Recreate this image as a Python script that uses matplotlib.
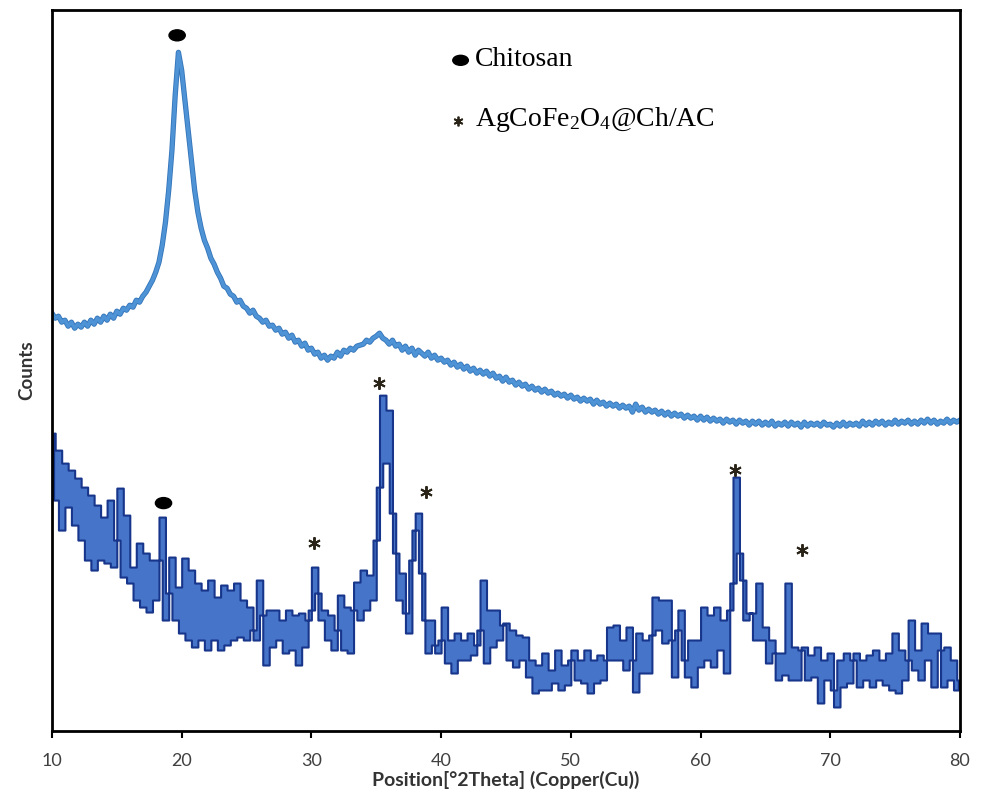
import numpy as np
import matplotlib
matplotlib.use("Agg")
import matplotlib.pyplot as plt
import matplotlib.patheffects as pe
from matplotlib.patches import Ellipse

# 2theta grid, 0.25 deg step from 10 to 80
two_theta = np.arange(10, 80.001, 0.25)

# Chitosan (upper trace), counts a.u.
chitosan = [
    418, 413, 415, 409, 411, 405, 409, 403, 407, 404, 409, 405,
    411, 407, 413, 409, 415, 411, 417, 413, 420, 417, 423, 421,
    426, 424, 431, 429, 435, 439, 445, 451, 459, 469, 486, 509,
    541, 581, 636, 679, 661, 631, 601, 571, 541, 519, 503, 491,
    483, 473, 467, 459, 453, 445, 443, 437, 435, 429, 431, 425,
    423, 418, 421, 415, 413, 409, 411, 405, 406, 401, 403, 397,
    399, 393, 396, 389, 391, 385, 388, 381, 383, 377, 379, 373,
    376, 371, 375, 373, 379, 375, 381, 379, 383, 381, 385, 386,
    387, 391, 389, 393, 395, 398, 393, 391, 387, 391, 385, 387,
    381, 385, 379, 383, 376, 381, 378, 375, 379, 373, 376, 371,
    373, 369, 371, 366, 369, 364, 367, 362, 365, 360, 363, 358,
    361, 357, 360, 355, 358, 353, 355, 350, 354, 349, 351, 346,
    349, 345, 347, 342, 345, 341, 343, 339, 342, 338, 340, 336,
    338, 335, 337, 333, 336, 332, 334, 330, 333, 330, 332, 327,
    331, 327, 329, 325, 328, 325, 327, 323, 326, 323, 325, 319,
    327, 321, 324, 319, 322, 319, 321, 317, 320, 316, 319, 315,
    318, 315, 317, 313, 316, 313, 315, 311, 315, 311, 314, 310,
    313, 310, 312, 308, 312, 309, 311, 307, 311, 308, 310, 306,
    310, 307, 310, 306, 309, 306, 310, 305, 308, 306, 309, 305,
    309, 306, 308, 304, 309, 305, 308, 306, 308, 305, 309, 306,
    307, 304, 308, 305, 309, 305, 308, 306, 308, 305, 310, 306,
    309, 306, 310, 307, 310, 306, 309, 307, 311, 307, 310, 308,
    311, 307, 310, 307, 311, 308, 312, 308, 311, 307, 310, 308,
    312, 308, 311, 309, 311,
]

# AgCoFe2O4@Ch/AC (lower trace), counts a.u.
composite = [
    298, 231, 281, 201, 268, 224, 261, 206, 253, 191, 244, 171,
    236, 161, 226, 171, 214, 168, 231, 164, 191, 243, 154, 216,
    148, 164, 131, 188, 124, 178, 119, 171, 131, 171, 214, 111,
    138, 174, 111, 144, 98, 173, 91, 161, 84, 148, 91, 141,
    81, 151, 91, 134, 81, 146, 86, 141, 91, 148, 94, 131,
    91, 124, 101, 91, 151, 116, 66, 121, 84, 121, 91, 111,
    78, 121, 81, 116, 66, 118, 84, 111, 121, 164, 138, 111,
    121, 91, 116, 81, 101, 136, 81, 124, 78, 121, 149, 111,
    161, 121, 156, 131, 191, 244, 336, 268, 321, 218, 178, 131,
    158, 118, 98, 171, 201, 218, 158, 111, 78, 111, 86, 78,
    91, 124, 68, 91, 58, 98, 71, 91, 71, 98, 76, 86,
    101, 151, 68, 121, 84, 121, 91, 106, 108, 71, 101, 64,
    96, 71, 94, 54, 71, 38, 66, 41, 78, 41, 61, 48,
    81, 41, 66, 46, 71, 81, 51, 71, 48, 81, 38, 71,
    48, 76, 51, 71, 104, 71, 106, 71, 91, 61, 104, 71,
    39, 98, 58, 91, 58, 96, 134, 101, 131, 88, 131, 91,
    54, 101, 121, 71, 54, 91, 44, 91, 64, 124, 71, 116,
    64, 124, 81, 111, 58, 121, 148, 254, 178, 151, 111, 118,
    118, 91, 148, 91, 104, 68, 91, 78, 51, 78, 56, 148,
    51, 84, 51, 81, 84, 51, 76, 54, 84, 28, 71, 51,
    78, 41, 24, 71, 44, 78, 48, 71, 78, 44, 71, 51,
    76, 44, 81, 51, 71, 46, 78, 41, 98, 38, 81, 51,
    71, 111, 61, 81, 51, 108, 71, 98, 44, 98, 81, 44,
    84, 51, 71, 41, 51,
]

# peak markers
chitosan_dots = [(19.65, 696), (18.6, 228)]
star_peaks = [(35.25, 348), (38.8, 239), (30.23, 188), (62.66, 261), (67.84, 181)]

plt.rcParams["mathtext.fontset"] = "custom"
plt.rcParams["mathtext.rm"] = "Liberation Serif"

fig = plt.figure(figsize=(9.84, 7.96), dpi=100)
ax = fig.add_axes([0.0528, 0.0817, 0.9228, 0.9053])

ax.plot(two_theta, chitosan, color="#4d93d6", lw=2.6,
        path_effects=[pe.withStroke(linewidth=3.8, foreground="#3474b8")])

# noisy trace drawn as a band between neighbouring readings
y = np.array(composite)
xm = (two_theta[:-1] + two_theta[1:]) / 2
lo = np.minimum(y[:-1], y[1:])
hi = np.maximum(y[:-1], y[1:])
ax.fill_between(xm, lo, hi, step="mid", facecolor="#4674c8",
                edgecolor="#17358a", lw=1.5)

for x, yy in chitosan_dots:
    ax.add_patch(Ellipse((x, yy), 1.25, 11, color="black", zorder=5))
for x, yy in star_peaks:
    ax.plot(x, yy, marker=(6, 2, 0), ms=9, mew=1.4, color="#2a2418", zorder=5)

# legend
ax.add_patch(Ellipse((41.5, 671), 1.2, 10, color="black", zorder=5))
ax.text(42.6, 672, "Chitosan", family="Liberation Serif", fontsize=20,
        va="center", ha="left")
ax.plot(41.3, 610, marker=(6, 2, 0), ms=7, mew=1.3, color="#2a2418")
ax.text(42.6, 612, r"AgCoFe$\mathrm{_2}$O$\mathrm{_4}$@Ch/AC", family="Liberation Serif",
        fontsize=20, va="center", ha="left")

ax.set_xlim(10, 80)
ax.set_ylim(0, 721)
ax.set_xticks(range(10, 81, 10))
ax.set_yticks([])
for s in ax.spines.values():
    s.set_linewidth(2)
    s.set_color("black")
ax.tick_params(axis="x", direction="out", length=5, width=1.5,
               labelsize=13, labelcolor="#404040", pad=11)
for lab in ax.get_xticklabels():
    lab.set_family("Lato")
ax.set_xlabel("Position[°2Theta] (Copper(Cu))", family="Lato", fontsize=14,
              fontweight="bold", color="#333333", labelpad=1)
ax.set_ylabel("Counts", family="Lato", fontsize=13.5, fontweight="bold",
              color="#333333", labelpad=12)

fig.savefig("out.png", dpi=100)
